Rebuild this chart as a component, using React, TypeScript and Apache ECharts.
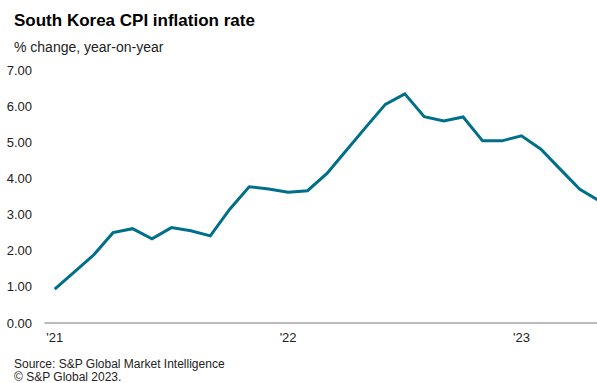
import React, { useEffect, useRef } from "react";
import * as echarts from "echarts";

const months = [
  "2021-01", "2021-02", "2021-03", "2021-04", "2021-05", "2021-06",
  "2021-07", "2021-08", "2021-09", "2021-10", "2021-11", "2021-12",
  "2022-01", "2022-02", "2022-03", "2022-04", "2022-05", "2022-06",
  "2022-07", "2022-08", "2022-09", "2022-10", "2022-11", "2022-12",
  "2023-01", "2023-02", "2023-03", "2023-04", "2023-05",
];

const cpiValues = [
  0.94, 1.41, 1.88, 2.5, 2.61, 2.33, 2.64, 2.55, 2.41, 3.15, 3.77, 3.71,
  3.62, 3.66, 4.14, 4.78, 5.42, 6.05, 6.34, 5.71, 5.59, 5.7, 5.04, 5.04,
  5.18, 4.81, 4.25, 3.7, 3.38,
];

const yearTickLabels: Record<string, string> = {
  "2021-01": "'21",
  "2022-01": "'22",
  "2023-01": "'23",
};

const titleText = "South Korea CPI inflation rate";
const subtitleText = "% change, year-on-year";
const footerLines = ["Source: S&P Global Market Intelligence", "© S&P Global 2023."];

const FONT = 'Arial, "Liberation Sans", sans-serif';

export default function App() {
  const ref = useRef<HTMLDivElement>(null);

  useEffect(() => {
    if (!ref.current) return;
    const chart = echarts.init(ref.current, undefined, { renderer: "svg" });
    chart.setOption({
      animation: false,
      backgroundColor: "#ffffff",
      graphic: [
        {
          type: "text",
          left: 14,
          top: 12,
          style: {
            text: titleText,
            font: `bold 17px ${FONT}`,
            fill: "#000000",
          },
        },
        {
          type: "text",
          left: 14,
          top: 40,
          style: {
            text: subtitleText,
            font: `14px ${FONT}`,
            fill: "#222222",
          },
        },
        {
          type: "text",
          left: 14,
          top: 358,
          style: {
            text: footerLines.join("\n"),
            font: `12px ${FONT}`,
            lineHeight: 12.5,
            fill: "#222222",
          },
        },
      ],
      grid: { left: 45, right: 0, top: 70, bottom: 60, containLabel: false },
      xAxis: {
        type: "category",
        data: months,
        boundaryGap: true,
        axisLine: { show: true, lineStyle: { color: "#a6a6a6", width: 1.5 } },
        axisTick: { show: false },
        splitLine: { show: false },
        axisLabel: {
          interval: 0,
          margin: 8,
          fontFamily: FONT,
          fontSize: 13,
          color: "#222222",
          formatter: (v: string) => yearTickLabels[v] ?? "",
        },
      },
      yAxis: {
        type: "value",
        min: 0,
        max: 7,
        interval: 1,
        axisLine: { show: false },
        axisTick: { show: false },
        splitLine: { show: false },
        axisLabel: {
          margin: 13,
          fontFamily: FONT,
          fontSize: 13,
          color: "#222222",
          formatter: (v: number) => v.toFixed(2),
        },
      },
      series: [
        {
          type: "line",
          data: cpiValues,
          symbol: "none",
          lineStyle: { color: "#00708a", width: 3, join: "miter" },
        },
      ],
    });
    return () => chart.dispose();
  }, []);

  return (
    <div
      style={{
        position: "fixed",
        left: 0,
        top: 0,
        width: 597,
        height: 383,
        overflow: "hidden",
        background: "#ffffff",
      }}
    >
      <div ref={ref} style={{ width: 609, height: 383 }} />
    </div>
  );
}
